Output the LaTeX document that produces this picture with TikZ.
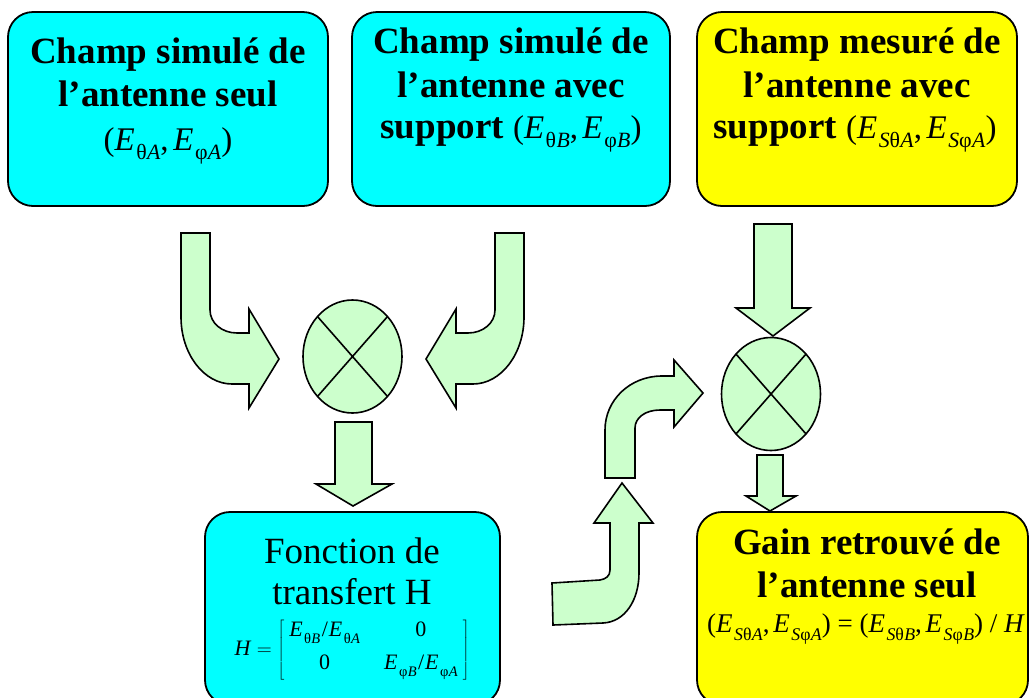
\documentclass[tikz,border=0pt]{standalone}
\usepackage{fontspec}
\usepackage{graphicx}
\setmainfont{Liberation Serif}
\usetikzlibrary{shapes.geometric}
\definecolor{boxcyan}{RGB}{0,255,255}
\definecolor{boxyellow}{RGB}{255,255,0}
\definecolor{arrgreen}{RGB}{204,255,204}
\newcommand\Es[1]{\textit{E}\kern1.5pt\raisebox{-0.3em}{\scalebox{0.66}{#1}}}
\newcommand\cma{,\kern0.14em}
\tikzset{
  box/.style={draw=black, line width=1.8pt, rounded corners=25pt, inner sep=0pt, outer sep=0pt},
  blockarrow/.style={draw=black, fill=arrgreen, line width=1.6pt, line join=miter},
  mult/.style={ellipse, draw=black, fill=arrgreen, line width=1.6pt, minimum width=99pt, minimum height=113pt, inner sep=0pt, outer sep=0pt},
  btxt/.style={anchor=base, inner sep=0pt, font=\fontsize{37}{43}\selectfont\bfseries},
  rtxt/.style={anchor=base, inner sep=0pt, font=\fontsize{37}{43}\selectfont},
  ftxt/.style={anchor=base, inner sep=0pt, font=\fontsize{33}{35}\selectfont},
}
\begin{document}
\begin{tikzpicture}[x=1pt,y=-1pt]
\useasboundingbox (0,0) rectangle (1031,697);
\clip (0,0) rectangle (1031,697);
\fill[white] (0,0) rectangle (1031,697);

% boxes
\node[box, fill=boxcyan, minimum width=320pt, minimum height=194pt] (b1) at (168,109) {};
\node[box, fill=boxcyan, minimum width=318pt, minimum height=194pt] (b2) at (511,109) {};
\node[box, fill=boxyellow, minimum width=320pt, minimum height=194pt] (b3) at (857,109) {};
\node[box, fill=boxcyan, minimum width=295pt, minimum height=193pt] (b4) at (352.5,608.5) {};
\node[box, fill=boxyellow, minimum width=331pt, minimum height=193pt] (b5) at (862.5,608.5) {};

% box 1 text
\node[btxt] (t1a) at (168,63) {Champ simulé de};
\node[btxt] (t1b) at (168,106) {l’antenne seul};
\node[ftxt] (t1c) at (168,150) {(\Es{θ\kern0.5pt\textit{A}}\cma\Es{φ\kern0.5pt\textit{A}})};

% box 2 text
\node[btxt] (t2a) at (511,53) {Champ simulé de};
\node[btxt] (t2b) at (511,97) {l’antenne avec};
\node[btxt] (t2c) at (511,138) {support {\mdseries\fontsize{33}{35}\selectfont (\Es{θ\kern0.5pt\textit{B}}\cma\Es{φ\kern0.5pt\textit{B}})}};

% box 3 text
\node[btxt] (t3a) at (857,53) {Champ mesuré de};
\node[btxt] (t3b) at (857,97) {l’antenne avec};
\node[btxt] (t3c) at (855,138) {support {\mdseries\fontsize{33}{35}\selectfont (\Es{\textit{S}θ\kern0.5pt\textit{A}}\cma\Es{\textit{S}φ\kern0.5pt\textit{A}})}};

% box 4 text
\node[rtxt] (t4a) at (352,563) {Fonction de};
\node[rtxt] (t4b) at (352,604) {transfert H};
\node[anchor=base, inner sep=0pt, font=\fontsize{22}{24}\selectfont] (t4c) at (352,655)
  {\textit{H} $=\left[\begin{tabular}{@{\kern5pt}c@{\hspace{24pt}}c@{\kern5pt}}\Es{θ\kern0.5pt\textit{B}}\kern1.5pt/\kern1pt\Es{θ\kern0.5pt\textit{A}} & 0\\[9pt] 0 & \Es{φ\kern0.5pt\textit{B}}\kern1.5pt/\kern1pt\Es{φ\kern0.5pt\textit{A}}\end{tabular}\right]$};

% box 5 text
\node[btxt] (t5a) at (867,554) {Gain retrouvé de};
\node[btxt] (t5b) at (867,597) {l’antenne seul};
\node[anchor=base, inner sep=0pt, font=\fontsize{27}{29}\selectfont] (t5c) at (866,632)
  {(\Es{\textit{S}θ\kern0.5pt\textit{A}}\cma\Es{\textit{S}φ\kern0.5pt\textit{A}}) = (\Es{\textit{S}θ\kern0.5pt\textit{B}}\cma\Es{\textit{S}φ\kern0.5pt\textit{B}}) / \textit{H}};

% multipliers
\node[mult] (c1) at (352.5,356.5) {};
\draw[line width=1.6pt] (c1.north west) -- (c1.south east) (c1.north east) -- (c1.south west);
\node[mult] (c2) at (771,394) {};
\draw[line width=1.6pt] (c2.north west) -- (c2.south east) (c2.north east) -- (c2.south west);

% curved arrow left (into c1)
\draw[blockarrow] (181,233) -- (210,233) -- (210,310)
  .. controls (210,323) and (222,333) .. (237,333) -- (249,333) -- (249,309) -- (279,359)
  -- (249,408) -- (249,384) -- (232,384)
  .. controls (204,384) and (181,354) .. (181,317) -- cycle;
% curved arrow right (into c1)
\draw[blockarrow] (524,233) -- (495,233) -- (495,310)
  .. controls (495,323) and (483,333) .. (468,333) -- (456,333) -- (456,309) -- (426,359)
  -- (456,408) -- (456,384) -- (473,384)
  .. controls (501,384) and (524,354) .. (524,317) -- cycle;
% c1 down to box 4
\draw[blockarrow] (335,422) -- (372,422) -- (372,484) -- (392,484) -- (353,506) -- (316,484) -- (335,484) -- cycle;
% box 3 down to c2
\draw[blockarrow] (754,224) -- (792,224) -- (792,308) -- (810,308) -- (773,336) -- (736,308) -- (754,308) -- cycle;
% c2 down to box 5
\draw[blockarrow] (757,455) -- (783,455) -- (783,496) -- (796,496) -- (770,511) -- (746,496) -- (757,496) -- cycle;
% S-shaped arrow, lower part
\draw[blockarrow] (552,583) -- (600,580)
  .. controls (606,579) and (610,576) .. (610,570) -- (610,523) -- (594,523) -- (622,483)
  -- (653,523) -- (639,523) -- (639,573)
  .. controls (639,600) and (625,622) .. (603,623) -- (553,625) -- cycle;
% S-shaped arrow, upper part
\draw[blockarrow] (605,478) -- (635,478) -- (635,428)
  .. controls (635,418) and (645,410) .. (660,410) -- (674,410) -- (674,427) -- (703,393)
  -- (674,360) -- (674,376) -- (662,376)
  .. controls (630,376) and (605,400) .. (605,430) -- cycle;
\end{tikzpicture}
\end{document}
